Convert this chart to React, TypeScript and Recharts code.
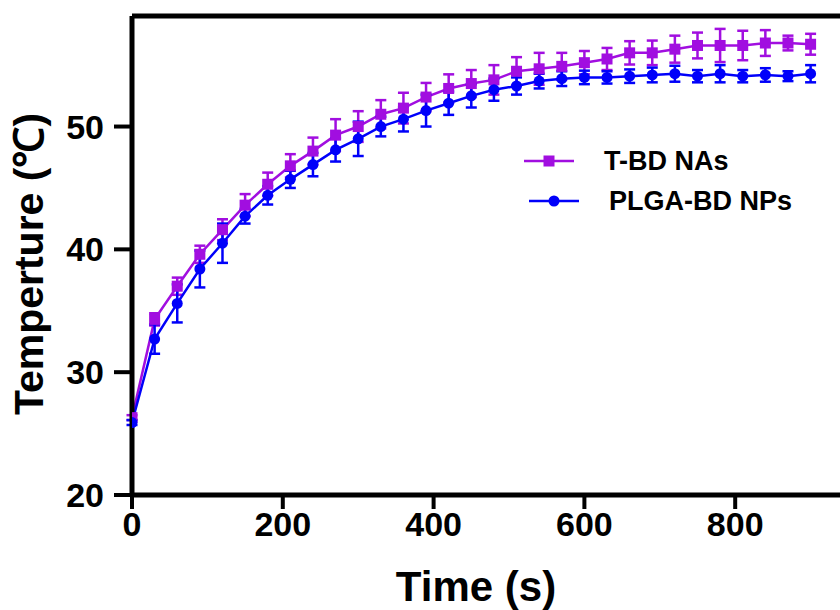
import React from "react";
import {
  LineChart,
  Line,
  XAxis,
  YAxis,
  ErrorBar,
  Legend,
  ReferenceLine,
} from "recharts";

// Sampling times (s)
const times = [
  0, 30, 60, 90, 120, 150, 180, 210, 240, 270, 300, 330, 360, 390, 420, 450,
  480, 510, 540, 570, 600, 630, 660, 690, 720, 750, 780, 810, 840, 870, 900,
];

// T-BD NAs temperature (°C) and standard deviation
const tbdMean = [
  26.3, 34.3, 37.0, 39.6, 41.6, 43.6, 45.3, 46.8, 48.0, 49.3, 50.0, 51.0, 51.5,
  52.4, 53.1, 53.5, 53.8, 54.5, 54.7, 54.9, 55.2, 55.5, 56.0, 56.0, 56.3, 56.6,
  56.6, 56.6, 56.8, 56.8, 56.7,
];
const tbdSd = [
  0.2, 0.5, 0.7, 0.7, 0.85, 0.9, 0.95, 0.95, 1.1, 1.3, 1.25, 1.15, 1.25, 1.15,
  1.15, 1.1, 1.2, 1.15, 1.3, 1.1, 0.95, 0.9, 0.95, 1.0, 1.1, 1.05, 1.35, 1.2,
  1.05, 0.6, 0.85,
];

// PLGA-BD NPs temperature (°C) and standard deviation
const plgaMean = [
  25.9, 32.7, 35.6, 38.4, 40.5, 42.7, 44.4, 45.7, 46.9, 48.1, 49.0, 50.0, 50.6,
  51.3, 51.9, 52.5, 53.0, 53.3, 53.7, 53.9, 54.0, 54.0, 54.1, 54.2, 54.3, 54.1,
  54.3, 54.1, 54.2, 54.1, 54.3,
];
const plgaSd = [
  0.2, 1.2, 1.55, 1.5, 1.6, 0.6, 0.75, 0.7, 0.95, 0.95, 1.4, 0.8, 1.0, 1.3,
  0.95, 0.95, 0.9, 0.7, 0.6, 0.6, 0.55, 0.5, 0.55, 0.6, 0.65, 0.5, 0.7, 0.5,
  0.55, 0.4, 0.7,
];

const xTicks = [0, 200, 400, 600, 800];
const yTicks = [20, 30, 40, 50];

const seriesNames = ["T-BD NAs", "PLGA-BD NPs"];

const PURPLE = "#A10EE0";
const BLUE = "#0000FA";
const FONT = "'Liberation Sans', Arial, Helvetica, sans-serif";

const data = times.map((t, i) => ({
  t,
  tbd: tbdMean[i],
  tbdErr: tbdSd[i],
  plga: plgaMean[i],
  plgaErr: plgaSd[i],
}));

const SquareDot = (props: any) => {
  const { cx, cy, index } = props;
  if (cx == null || cy == null) return <g key={`sq-${index}`} />;
  return (
    <rect
      key={`sq-${index}`}
      x={cx - 5.5}
      y={cy - 5.5}
      width={11}
      height={11}
      fill={PURPLE}
    />
  );
};

const LegendBox = () => (
  <div style={{ fontFamily: FONT, fontWeight: 700, color: "#000" }}>
    <div style={{ display: "flex", alignItems: "center", height: 40 }}>
      <svg width={60} height={20}>
        <line x1={4} y1={10} x2={54} y2={10} stroke={PURPLE} strokeWidth={2.5} />
        <rect x={23.5} y={4.5} width={11} height={11} fill={PURPLE} />
      </svg>
      <span style={{ fontSize: 27, marginLeft: 24 }}>{seriesNames[0]}</span>
    </div>
    <div style={{ display: "flex", alignItems: "center", height: 40 }}>
      <svg width={65} height={20}>
        <line x1={9} y1={10} x2={59} y2={10} stroke={BLUE} strokeWidth={2.5} />
        <circle cx={34} cy={10} r={5.5} fill={BLUE} />
      </svg>
      <span style={{ fontSize: 27, marginLeft: 24 }}>{seriesNames[1]}</span>
    </div>
  </div>
);

export default function App() {
  return (
    <div style={{ position: "absolute", left: 0, top: 0, background: "#fff" }}>
      <LineChart
        width={840}
        height={610}
        data={data}
        margin={{ top: 16, right: 0, left: 0, bottom: 0 }}
      >
        <XAxis
          dataKey="t"
          type="number"
          domain={[0, 939]}
          ticks={xTicks}
          allowDataOverflow
          height={115}
          axisLine={{ stroke: "#000", strokeWidth: 5 }}
          tickLine={{ stroke: "#000", strokeWidth: 4 }}
          tickSize={14}
          tickMargin={3}
          tick={{ fill: "#000", fontSize: 34, fontWeight: 700, fontFamily: FONT }}
          label={(props: any) => {
            const vb = props.viewBox;
            return (
              <text
                x={vb.x + vb.width / 2 - 10}
                y={vb.y + 106}
                textAnchor="middle"
                fontFamily={FONT}
                fontWeight={700}
                fontSize={42}
                fill="#000"
              >
                Time (s)
              </text>
            );
          }}
        />
        <YAxis
          type="number"
          domain={[20, 59]}
          ticks={yTicks}
          allowDataOverflow
          width={132}
          axisLine={{ stroke: "#000", strokeWidth: 5 }}
          tickLine={{ stroke: "#000", strokeWidth: 4 }}
          tickSize={18}
          tickMargin={10}
          tick={{ fill: "#000", fontSize: 34, fontWeight: 700, fontFamily: FONT }}
          label={() => {
            const cx = 43;
            const cy = 264;
            return (
              <text
                x={cx}
                y={cy}
                transform={`rotate(-90, ${cx}, ${cy})`}
                textAnchor="middle"
                fontFamily={FONT}
                fontWeight={700}
                fontSize={41}
                fill="#000"
              >
                Temperture (℃)
              </text>
            );
          }}
        />
        <ReferenceLine y={59} stroke="#000" strokeWidth={5} ifOverflow="visible" />
        <Legend
          layout="horizontal"
          verticalAlign="middle"
          align="center"
          content={() => <LegendBox />}
          wrapperStyle={{ position: "absolute", left: 520, top: 141, width: 320 }}
        />
        <Line
          name={seriesNames[0]}
          dataKey="tbd"
          stroke={PURPLE}
          strokeWidth={2.5}
          dot={SquareDot}
          activeDot={false}
          isAnimationActive={false}
        >
          <ErrorBar
            dataKey="tbdErr"
            direction="y"
            width={5.5}
            strokeWidth={2.5}
            stroke={PURPLE}
          />
        </Line>
        <Line
          name={seriesNames[1]}
          dataKey="plga"
          stroke={BLUE}
          strokeWidth={2.5}
          dot={{ r: 5.5, fill: BLUE, stroke: BLUE, strokeWidth: 0 }}
          activeDot={false}
          isAnimationActive={false}
        >
          <ErrorBar
            dataKey="plgaErr"
            direction="y"
            width={5.5}
            strokeWidth={2.5}
            stroke={BLUE}
          />
        </Line>
      </LineChart>
    </div>
  );
}
